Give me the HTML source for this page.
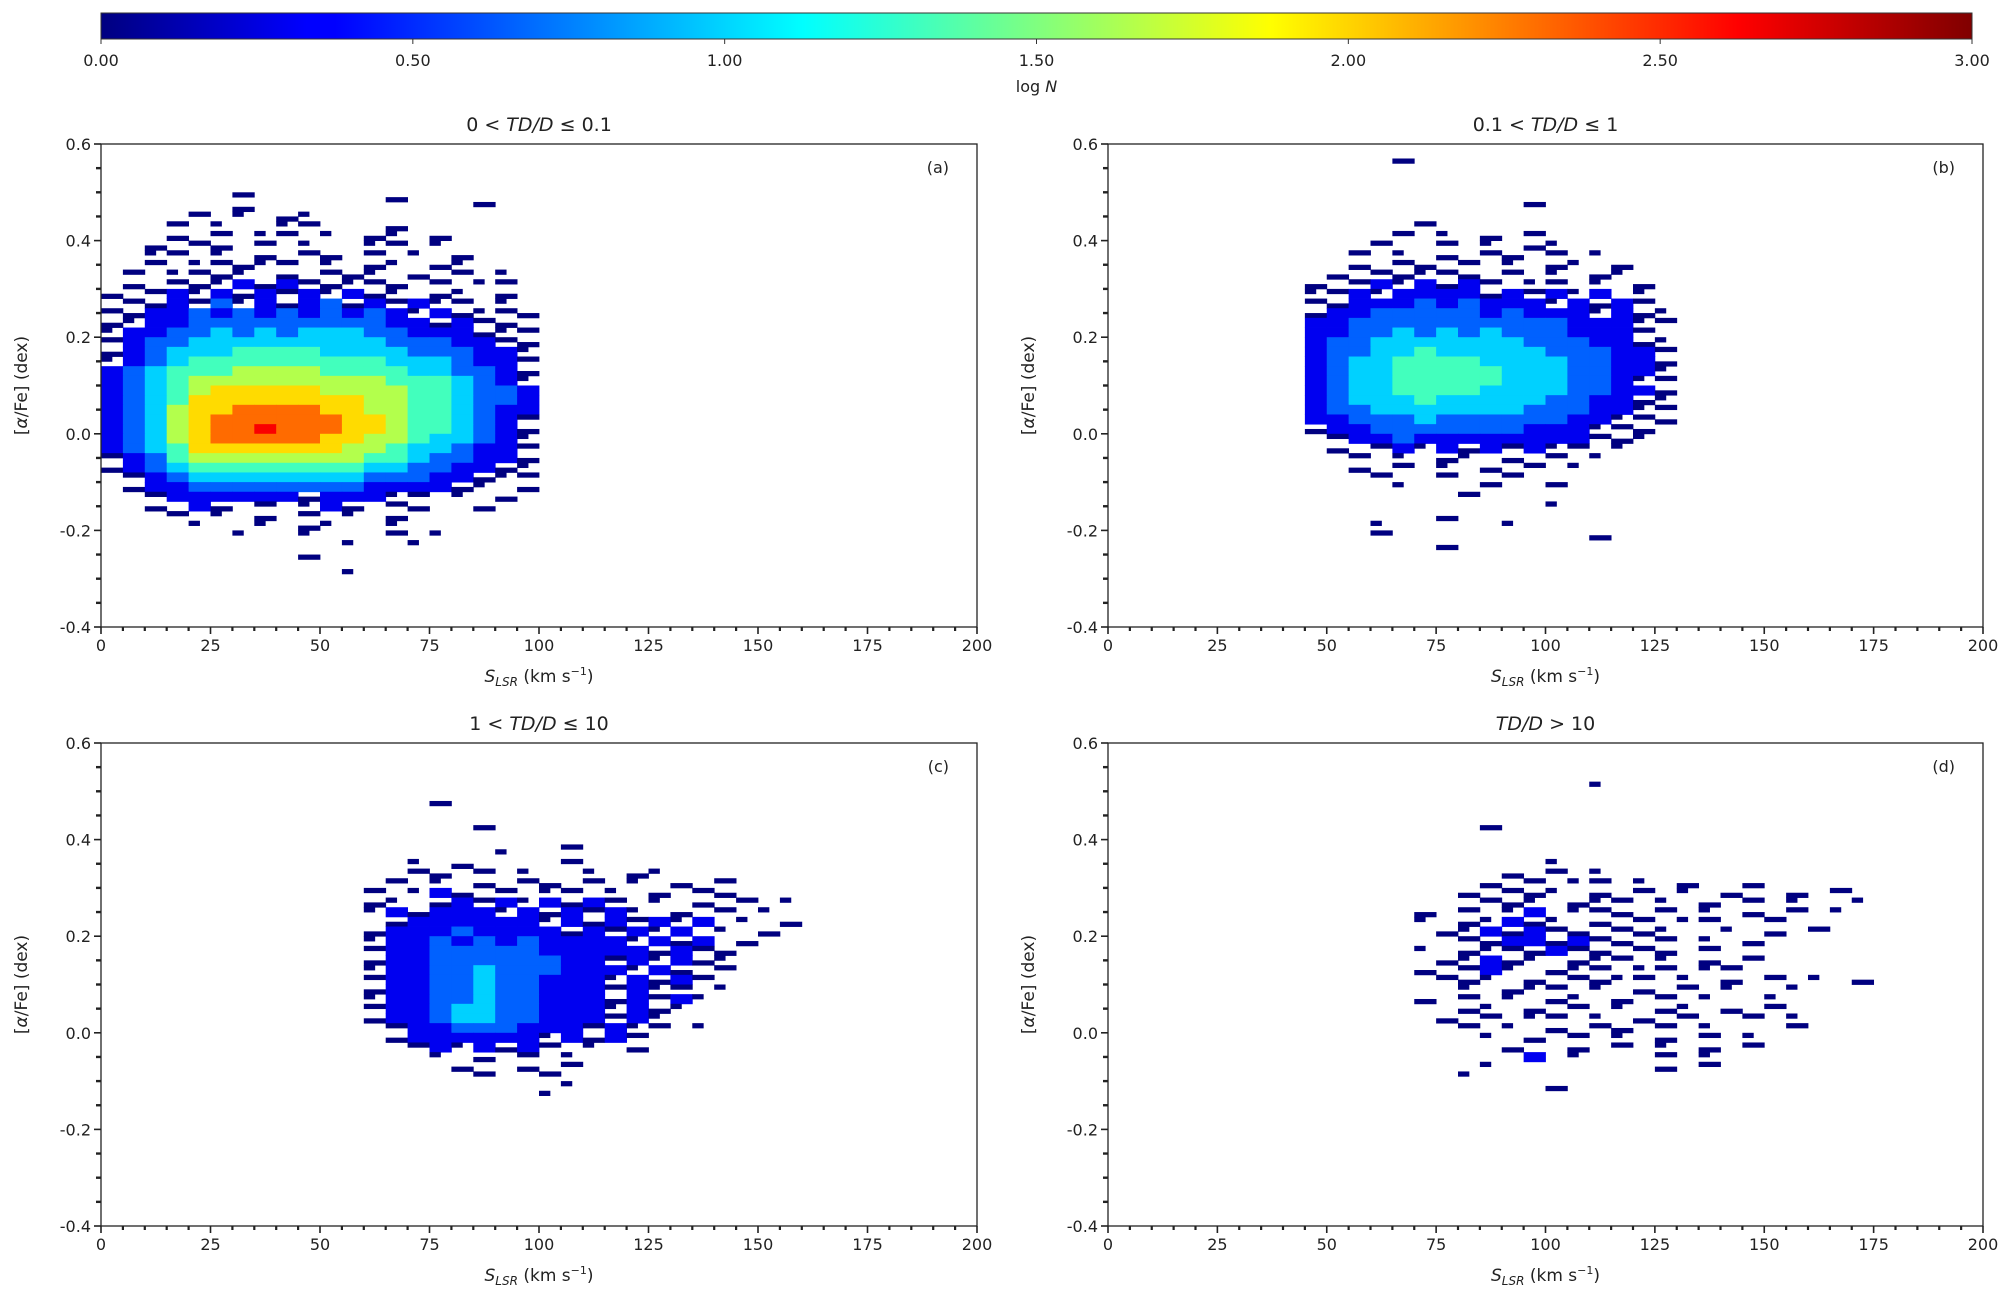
<!DOCTYPE html>
<html><head><meta charset="utf-8">
<style>
html,body{margin:0;padding:0;background:#fff;}
svg{display:block;font-family:"DejaVu Sans","Liberation Sans",sans-serif;}
</style></head>
<body>
<svg id="fig" width="2011" height="1303" viewBox="0 0 2011 1303" xmlns="http://www.w3.org/2000/svg">
<defs><linearGradient id="jet" x1="0" x2="1" y1="0" y2="0">
<stop offset="0" stop-color="#000080"/><stop offset="0.11" stop-color="#0000ff"/><stop offset="0.125" stop-color="#0000ff"/>
<stop offset="0.375" stop-color="#00ffff"/><stop offset="0.625" stop-color="#ffff00"/><stop offset="0.875" stop-color="#ff0000"/><stop offset="1" stop-color="#800000"/>
</linearGradient></defs>
</svg>
<script>
// colorbar ticks
const cbTicks = [0, 0.5, 1.0, 1.5, 2.0, 2.5, 3.0];
const xTicks = [0, 25, 50, 75, 100, 125, 150, 175, 200];
const yTicks = [-0.4, -0.2, 0.0, 0.2, 0.4, 0.6];
const titles = ["0 < TD/D ≤ 0.1", "0.1 < TD/D ≤ 1", "1 < TD/D ≤ 10", "TD/D > 10"];
const panelTags = ["(a)", "(b)", "(c)", "(d)"];
// grid origin (x of first column, y top of first row) per panel; cell 5 km/s x 0.02 dex
const gridX0 = [0, 45, 60, 70];
const gridYTop = [0.50, 0.58, 0.48, 0.52];
// digits: '1' -> logN 0.0, each step +0.33
const gridA = [
"......1......1......","......1..........1..","....1.1.11..........","...1.1..11...1......",
"...1.1.11.1.11.1....","..1.11.1.1..11.1....","..11.1.1.11.1.1.1...","..1.11111.1.11.11...",
".1.1111.1.111.1.1.1.",".1.11121211111.1.11.","1.121212121211.11.1.",".1121312123121211.1.",
"11223232323232121111","1122333333333221211.","12233434344433222111","12334444444443332211",
"12344455554444333221","12345555555554443221","23455566665555443321","23456666666665554321",
"23456777776666554332","23457777777766554332","23467788887766554322","23467888888776554321",
"23467889888776554321","23467888887766544321","23457777777665443221","12356666666655433221",
"12345555555544332211",".1234444444433322111",".12233333333222211.1","..1222222122211.1.1.",
"..1.21.1.121.11..1..","...1.1.1.1.1.1......","....1..1.11..1......","......1..1...1.1....",
"...........1..1.....",".........1..........","....................","...........1........"];
const gridB = [
"....1............","..................","..................","..................",
"..................","..........1......","..................",".....1...........",
"....1.1.1.1......","...1..1.1.11.....","..1.1.1.11.1.1...","..1.11.1.1.11.1..",
".1.11111.1.1.11..","1.1212121.11.1.1.","11212222121212.1.","1122232322212121.",
"12233333232221211","22333333333322211","2233434343332221.","23344444443332211",
"23344544444333221","23445555444433221","23445555544433221","23445555544433211",
"23445555444433221","23444544444332211","23344444443332211","22333433333322111",
"1223333333222111.",".122322222222111.",".1.1212121211.1..","..1.1.11.1.1.1...",
"..1.1.1.1.1.1....","...1..1..1.......","....1...1..1.....",".......1.........",
"...........1.....","......1..........","...1.....1.......","...1.........1...",
"......1.........."];
const gridC = [
"...1................","....................",".....1..............","....................",
".........1..........","......1.............","..1.1....1..........","..11.1.1..1.11......",
".1.1.1.11.1.1.1.1...","1.121.1.11.1.1.11...","11.121212121.1.1.1.1","1212221212121.1.1.1.",
".122222212121212.1.1","122232222121212.1.1.","1223232322221212.1..","12233333222221211...",
"12233333322121211...","122334333222121.1...","1223343322212121....","122334332221211.1...",
"1223343322212121....","122344332221211.....","12234433222121......",".1223332221211.1....",
".122222212121.......","..1212121.1.1.......","...1.1.1.1..........","....1..1.1..........",
".....1..1...........",".........1..........","........1..........."];
const gridD = [
"........1............","....................","....................","....................",
"...1.................","....................","....................","....................",
"......1..............","....1.1.1............","...1.1.11.1.1..1.....","..1.111.1.1.1.1..1.1.",
"...111.111.1.1.1.1..1","1.1.12.111.1.1.1.1.1.","1.11211.1.1.11..1....",".1121211.111..1.1.1..",
"..11221211.1.1.1.....","1.1111211.11.1.......",".11211.111.1.1.1.....","1.121.111.11.11......",
".111.1.1111.1.1.1.1.1","..1.111.1.1.1.1..1...","1.1.1.11.1.1.1..1....","..11.1.1.1.11.1.1....",
".1.1.11.1.1.1..1.1...","..1.1.1.11.1.1...1...","...1.1.1.1.1.1.1.....","....1..1.1.1.1.1.....",
".....2.1...1.1.......","...1.......1.1.......","..1..................","......1.............."];
const grids = [gridA, gridB, gridC, gridD];

const NS = "http://www.w3.org/2000/svg";
const svg = document.getElementById('fig');
function mk(tag, attrs, parent){const e=document.createElementNS(NS,tag);for(const k in attrs)e.setAttribute(k,attrs[k]);(parent||svg).appendChild(e);return e;}
function clip(v){return Math.max(0,Math.min(1,v));}
function jet(t){const r=clip(1.5-Math.abs(4*t-3)),g=clip(1.5-Math.abs(4*t-2)),b=clip(1.5-Math.abs(4*t-1));
 return `rgb(${Math.round(r*255)},${Math.round(g*255)},${Math.round(b*255)})`;}

// colorbar
const CB = {x0:101, x1:1972, y0:13, y1:39};
const cb = mk('g', {});


mk('rect',{x:CB.x0,y:CB.y0,width:CB.x1-CB.x0,height:CB.y1-CB.y0,fill:'url(#jet)',stroke:'#333','stroke-width':1},cb);
cbTicks.forEach(v=>{
 const x=CB.x0+(CB.x1-CB.x0)*v/3;
 mk('line',{x1:x,x2:x,y1:CB.y1,y2:CB.y1+5,stroke:'#333','stroke-width':1},cb);
 const t=mk('text',{x:x,y:66,'font-size':16,'text-anchor':'middle',fill:'#222'},cb);
 t.textContent=v.toFixed(2);
 
 
});
const cbl=mk('text',{x:(CB.x0+CB.x1)/2,y:92,'font-size':16,'text-anchor':'middle',fill:'#222'},cb);
cbl.innerHTML='log <tspan font-style="italic">N</tspan>';



const panelsX=[[101,977],[1108,1983]];
const panelsY=[[144,627],[743,1226]];
for(let p=0;p<4;p++){
 const [L,R]=panelsX[p%2]; const [T,B]=panelsY[Math.floor(p/2)];
 const sx=v=>L+(R-L)*v/200;
 const sy=v=>B-(B-T)*(v+0.4)/1.0;
 const g=mk('g',{});
 
 
 const grid=grids[p];
 const cg=mk('g',{},g);
 
 
 grid.forEach((row,i)=>{
  for(let j=0;j<row.length;j++){
   const c=row[j]; if(c<'1'||c>'9')continue;
   const lv=c.charCodeAt(0)-49; const logN=lv*0.33;
   const xa=gridX0[p]+5*j, ya=gridYTop[p]-0.02*i;
   let x=sx(xa), y=sy(ya), w=sx(xa+5)-x, h=sy(ya-0.02)-y;
   if(lv===0){ const q=(i+j)%3; h=h/2; y+= (q%2)*h; if(q===2){w=w/2;} }
   const r=mk('rect',{x:x.toFixed(2),y:y.toFixed(2),width:(w+0.4).toFixed(2),height:(h+0.4).toFixed(2),fill:jet(logN/3)},cg);
   
   
  }
 });
 mk('rect',{x:L,y:T,width:R-L,height:B-T,fill:'none',stroke:'#222','stroke-width':1.3},g);
 for(let v=0;v<=200;v+=5){
  const major=v%25===0; const x=sx(v);
  mk('line',{x1:x,x2:x,y1:B,y2:B+(major?7:4),stroke:'#222','stroke-width':major?1.6:2.2},g);
 }
 xTicks.forEach(v=>{
  const t=mk('text',{x:sx(v),y:B+24,'font-size':16,'text-anchor':'middle',fill:'#222'},g);
  t.textContent=v;
  
  
 });
 for(let k=0;k<=20;k++){
  const v=-0.4+k*0.05; const major=k%4===0; const y=sy(v);
  mk('line',{x1:L,x2:L-(major?7:5),y1:y,y2:y,stroke:'#222','stroke-width':major?1.6:2.4},g);
 }
 yTicks.forEach(v=>{
  const t=mk('text',{x:L-10,y:sy(v)+6,'font-size':16,'text-anchor':'end',fill:'#222'},g);
  t.textContent=v.toFixed(1);
  
  
 });
 const xl=mk('text',{x:(L+R)/2,y:B+55,'font-size':17,'text-anchor':'middle',fill:'#222'},g);
 xl.innerHTML='<tspan font-style="italic">S</tspan><tspan font-style="italic" font-size="12" dy="4">LSR</tspan><tspan dy="-4"> (km s</tspan><tspan font-size="11" dy="-7">−1</tspan><tspan dy="7">)</tspan>';
 
 
 const yl=mk('text',{x:0,y:0,'font-size':17,'text-anchor':'middle',fill:'#222',transform:`translate(${L-74},${(T+B)/2}) rotate(-90)`},g);
 yl.innerHTML='[<tspan font-style="italic">α</tspan>/Fe] (dex)';
 
 
 const tt=mk('text',{x:(L+R)/2,y:T-13,'font-size':19,'text-anchor':'middle',fill:'#222'},g);
 const parts=titles[p].split('TD/D');
 tt.innerHTML=parts[0]+'<tspan font-style="italic">TD/D</tspan>'+parts[1];
 
 
 const pt=mk('text',{x:R-28,y:T+29,'font-size':16,'text-anchor':'end',fill:'#222'},g);
 pt.textContent=panelTags[p];
 
 
}
</script>
</body></html>
